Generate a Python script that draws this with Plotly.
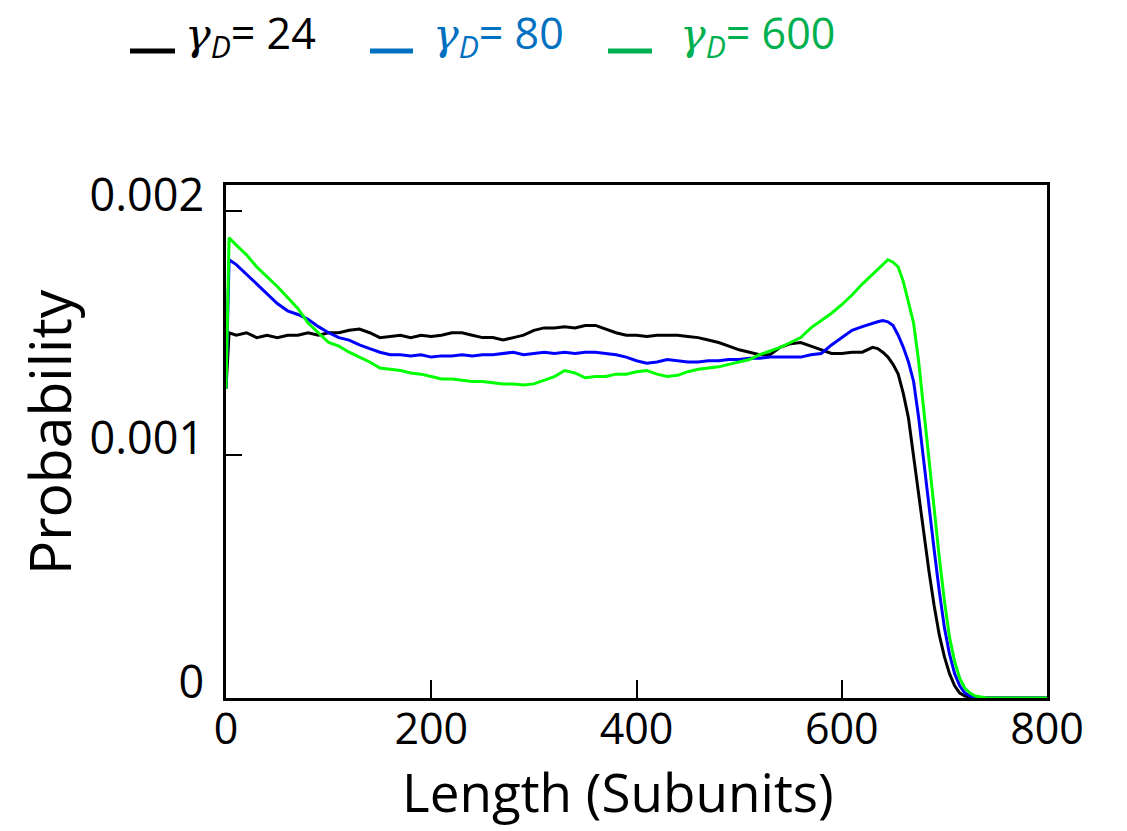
import numpy as np
import plotly.graph_objects as go

# Positions along the filament (subunits)
length = [0, 3] + list(range(10, 631, 10)) + list(range(635, 741, 5)) + list(range(750, 801, 10))

# Probability values, in units of 1e-3
p_gamma24 = [
    1.27, 1.50,
    1.49, 1.50, 1.48, 1.49, 1.48, 1.49, 1.49, 1.50, 1.49, 1.50,
    1.50, 1.51, 1.515, 1.50, 1.48, 1.485, 1.49, 1.48, 1.49, 1.485,
    1.49, 1.50, 1.50, 1.49, 1.48, 1.48, 1.47, 1.48, 1.49, 1.51,
    1.52, 1.52, 1.525, 1.52, 1.53, 1.53, 1.515, 1.50, 1.49, 1.49,
    1.485, 1.49, 1.49, 1.49, 1.485, 1.48, 1.47, 1.46, 1.445, 1.43,
    1.42, 1.41, 1.41, 1.44, 1.455, 1.46, 1.445, 1.43, 1.415, 1.415,
    1.42, 1.42, 1.44,
    1.435, 1.42, 1.40, 1.37, 1.33, 1.25, 1.15, 0.99, 0.82, 0.67, 0.52,
    0.38, 0.26, 0.17, 0.10, 0.05, 0.02, 0.008, 0.003, 0.001, 0.0, 0.0,
    0.0, 0.0, 0.0, 0.0, 0.0, 0.0,
]
p_gamma80 = [
    1.27, 1.80,
    1.78, 1.74, 1.70, 1.66, 1.62, 1.59, 1.575, 1.555, 1.525, 1.50,
    1.48, 1.47, 1.45, 1.435, 1.42, 1.41, 1.41, 1.405, 1.41, 1.40,
    1.405, 1.405, 1.41, 1.405, 1.41, 1.41, 1.415, 1.42, 1.41, 1.415,
    1.42, 1.415, 1.42, 1.415, 1.42, 1.42, 1.415, 1.41, 1.40, 1.385,
    1.375, 1.38, 1.39, 1.385, 1.38, 1.38, 1.385, 1.385, 1.39, 1.39,
    1.395, 1.395, 1.40, 1.40, 1.40, 1.40, 1.41, 1.415, 1.45, 1.48,
    1.51, 1.525, 1.54,
    1.545, 1.55, 1.545, 1.53, 1.49, 1.44, 1.38, 1.30, 1.15, 0.97, 0.78,
    0.61, 0.44, 0.29, 0.18, 0.10, 0.05, 0.02, 0.008, 0.003, 0.001, 0.0,
    0.0, 0.0, 0.0, 0.0, 0.0, 0.0,
]
p_gamma600 = [
    1.27, 1.89,
    1.86, 1.82, 1.77, 1.73, 1.69, 1.645, 1.60, 1.54, 1.50, 1.46,
    1.445, 1.42, 1.40, 1.38, 1.355, 1.35, 1.345, 1.335, 1.33, 1.32,
    1.31, 1.31, 1.305, 1.30, 1.30, 1.295, 1.29, 1.29, 1.285, 1.29,
    1.305, 1.32, 1.345, 1.335, 1.315, 1.32, 1.32, 1.33, 1.33, 1.34,
    1.345, 1.33, 1.32, 1.325, 1.34, 1.35, 1.355, 1.36, 1.37, 1.38,
    1.39, 1.41, 1.425, 1.44, 1.46, 1.48, 1.52, 1.55, 1.58, 1.615,
    1.655, 1.70, 1.74,
    1.76, 1.78, 1.80, 1.79, 1.77, 1.71, 1.63, 1.54, 1.38, 1.18, 0.98,
    0.77, 0.58, 0.40, 0.25, 0.15, 0.08, 0.04, 0.02, 0.008, 0.003, 0.001,
    0.0, 0.0, 0.0, 0.0, 0.0, 0.0,
]

series = [
    (p_gamma24, "#000000", "24", "#000000"),
    (p_gamma80, "#0000FF", "80", "#0070C0"),
    (p_gamma600, "#00FF00", "600", "#00B050"),
]

x_ticks = [0, 200, 400, 600, 800]
y_ticks = [0, 0.001, 0.002]
y_tick_text = ["0", "0.001", "0.002"]

W, H = 1127, 831
L, R, T, B = 226, 1047, 185, 698
FONT = "Open Sans"


def px_x(px):
    return (px - L) / (R - L)


def px_y(py):
    return (B - py) / (B - T)


fig = go.Figure()
for vals, color, label, _ in series:
    fig.add_trace(go.Scatter(
        x=length, y=np.array(vals) * 1e-3, mode="lines",
        line=dict(color=color, width=3), name=label, showlegend=False,
    ))

annotations = []
shapes = []
# Legend row: short bar then the label
legend_pos = [(130, 175, 183), (370, 413, 431), (608, 652, 678)]
for (vals, _, label, lcolor), (bx0, bx1, tx) in zip(series, legend_pos):
    shapes.append(dict(type="line", xref="paper", yref="paper",
                       x0=px_x(bx0), x1=px_x(bx1), y0=px_y(51), y1=px_y(51),
                       line=dict(color=lcolor, width=5)))
    annotations.append(dict(
        xref="paper", yref="paper", x=px_x(tx), y=px_y(1),
        xanchor="left", yanchor="top", showarrow=False,
        text=(f"<span style='font-family:DejaVu Serif'><i>γ</i></span>"
              f"<sub><i>D</i></sub>= {label}"),
        font=dict(family=FONT, size=43, color=lcolor),
    ))

annotations.append(dict(
    xref="paper", yref="paper", x=px_x(618), y=px_y(792),
    xanchor="center", yanchor="middle", showarrow=False,
    text="Length (Subunits)", font=dict(family=FONT, size=53, color="#000"),
))
annotations.append(dict(
    xref="paper", yref="paper", x=px_x(49), y=px_y(432),
    xanchor="center", yanchor="middle", showarrow=False, textangle=-90,
    text="Probability", font=dict(family=FONT, size=57, color="#000"),
))

fig.update_layout(
    width=W, height=H,
    margin=dict(l=L, r=W - R, t=T, b=H - B, pad=0),
    paper_bgcolor="white", plot_bgcolor="white",
    annotations=annotations, shapes=shapes,
    xaxis=dict(
        range=[0, 800], tickvals=x_ticks, ticks="inside", ticklen=18,
        tickwidth=2, tickcolor="#000", showline=True, linecolor="#000",
        linewidth=2.5, mirror=True, showgrid=False, zeroline=False,
        tickfont=dict(family=FONT, size=43, color="#000"),
        ticklabelstandoff=-8,
    ),
    yaxis=dict(
        range=[0, (B - T) / 243.5 * 1e-3], tickvals=y_ticks,
        ticktext=y_tick_text, ticks="inside", ticklen=16, tickwidth=2,
        tickcolor="#000", showline=True, linecolor="#000", linewidth=2.5,
        mirror=True, showgrid=False, zeroline=False,
        tickfont=dict(family=FONT, size=45, color="#000"),
        ticklabelshift=-16, ticklabelstandoff=10,
    ),
)

fig.write_html("out.html")
